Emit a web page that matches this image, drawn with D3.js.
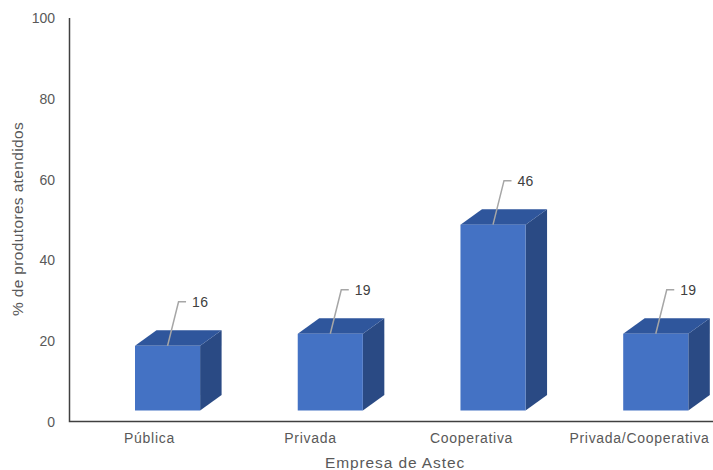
<!DOCTYPE html>
<html><head><meta charset="utf-8">
<script src="https://cdn.jsdelivr.net/npm/d3@7"></script>
<style>body{margin:0;background:#fff}svg{display:block}text{font-family:"Liberation Sans",Arial,sans-serif}</style>
</head><body>
<svg id="c" width="713" height="470"></svg>
<script>
const categories = ["Pública", "Privada", "Cooperativa", "Privada/Cooperativa"];
const values = [16, 19, 46, 19];
const yTicks = [0, 20, 40, 60, 80, 100];
const yTitle = "% de produtores atendidos";
const xTitle = "Empresa de Astec";

const svg = d3.select("#c");
const y = d3.scaleLinear().domain([0, 100]).range([422, 18]);
const xAxisScale = d3.scaleBand().domain(categories).range([69, 713]);
const xBar = d3.scaleBand().domain(categories).range([135, 688.3]).paddingInner(0.6).paddingOuter(0);
const lift = 11.5, dx = 21.5, dy = -15.5;

// y tick labels
svg.append("g").selectAll("text").data(yTicks).join("text")
  .attr("x", 55).attr("y", d => y(d)).attr("dy", "0.35em")
  .attr("text-anchor", "end").attr("fill", "#595959").attr("font-size", 14)
  .text(d => d);

// bars
const g = svg.append("g");
categories.forEach((c, i) => {
  const v = values[i];
  const x0 = xBar(c), x1 = x0 + xBar.bandwidth();
  const yb = y(0) - lift, yt = y(v) - lift;
  g.append("path").attr("fill", "#2A4A84")
    .attr("d", `M${x1},${yt}L${x1+dx},${yt+dy}L${x1+dx},${yb+dy}L${x1},${yb}Z`);
  g.append("path").attr("fill", "#2F569C")
    .attr("d", `M${x0},${yt}L${x0+dx},${yt+dy}L${x1+dx},${yt+dy}L${x1},${yt}Z`);
  g.append("rect").attr("x", x0).attr("y", yt).attr("width", x1 - x0).attr("height", yb - yt).attr("fill", "#4472C4");
  const cx = (x0 + x1) / 2;
  g.append("path").attr("fill", "none").attr("stroke", "#A6A6A6").attr("stroke-width", 1.5)
    .attr("d", `M${cx},${yt}L${cx+11},${yt-44}L${cx+18.5},${yt-44}`);
  g.append("text").attr("x", cx + 24.5).attr("y", yt - 44).attr("dy", "0.35em")
    .attr("fill", "#404040").attr("font-size", 14).attr("letter-spacing", 0.3).text(v);
});

// axes lines
svg.append("path").attr("fill", "none").attr("stroke", "#404040").attr("stroke-width", 1.5)
  .attr("d", `M69.5,18V421.5H713`);

// category labels
svg.append("g").selectAll("text").data(categories).join("text")
  .attr("x", d => xAxisScale(d) + xAxisScale.bandwidth() / 2 + (d === "Privada/Cooperativa" ? 7 : 0)).attr("y", 443)
  .attr("text-anchor", "middle").attr("fill", "#595959").attr("font-size", 14).attr("letter-spacing", 0.7)
  .text(d => d);

// titles
svg.append("text").attr("x", 395).attr("y", 468).attr("text-anchor", "middle")
  .attr("fill", "#595959").attr("font-size", 15.5).attr("letter-spacing", 0.9).text(xTitle);
svg.append("text").attr("transform", "translate(23,219) rotate(-90)").attr("text-anchor", "middle")
  .attr("fill", "#595959").attr("font-size", 15.5).attr("letter-spacing", 0.35).text(yTitle);
</script>
</body></html>
